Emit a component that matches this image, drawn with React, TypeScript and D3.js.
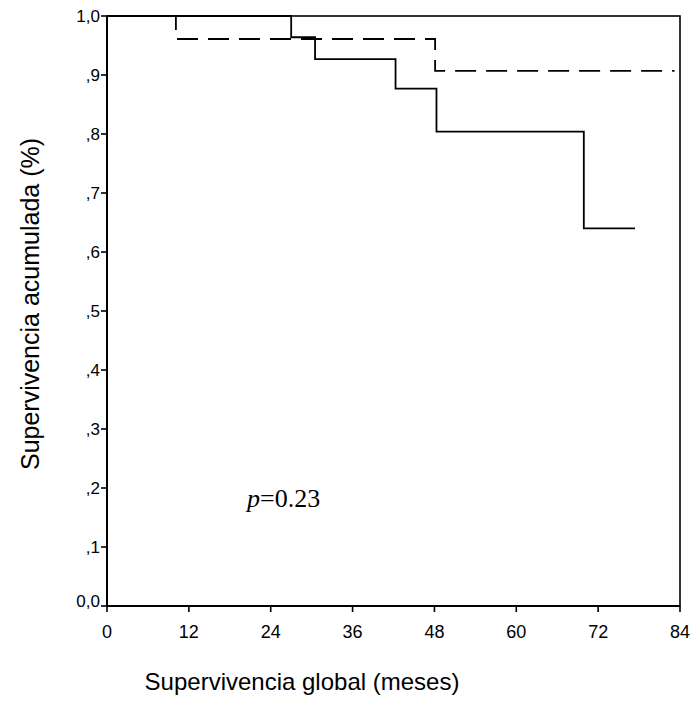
import React from "react";
import * as d3 from "d3";

const xTicks = [0, 12, 24, 36, 48, 60, 72, 84];
const yTicks = [0, 0.1, 0.2, 0.3, 0.4, 0.5, 0.6, 0.7, 0.8, 0.9, 1.0];
const yTickLabels = ["0,0", ",1", ",2", ",3", ",4", ",5", ",6", ",7", ",8", ",9", "1,0"];

// Kaplan-Meier steps: [time, survival]
const solidTimes = [0, 27, 30.5, 42.3, 48.3, 69.9, 77.4];
const solidSurv = [1.0, 0.964, 0.927, 0.877, 0.804, 0.64, 0.64];
const dashedTimes = [0, 10.1, 48.1, 83.2];
const dashedSurv = [1.0, 0.961, 0.907, 0.907];

const W = 694, H = 717;
const left = 107, right = 680, top = 16, bottom = 606;

export default function App() {
  const x = d3.scaleLinear().domain([0, 84]).range([left, right]);
  const y = d3.scaleLinear().domain([0, 1]).range([bottom, top]);
  const line = d3.line<[number, number]>().x(d => x(d[0])).y(d => y(d[1])).curve(d3.curveStepAfter);
  const solid = solidTimes.map((t, i) => [t, solidSurv[i]] as [number, number]);
  const dashed = dashedTimes.map((t, i) => [t, dashedSurv[i]] as [number, number]);
  const font = "Liberation Sans, Arial, sans-serif";
  return (
    <svg width={W} height={H} style={{ position: "absolute", left: 0, top: 0, background: "#fff" }}>
      <rect x={0} y={0} width={W} height={H} fill="#fff" />
      <path d={line(dashed) || ""} fill="none" stroke="#000" strokeWidth={1.8} strokeDasharray="21 10" />
      <path d={line(solid) || ""} fill="none" stroke="#000" strokeWidth={1.8} />
      <rect x={left} y={top} width={right - left} height={bottom - top} fill="none" stroke="#000" strokeWidth={1.6} />
      <line x1={left} x2={right} y1={bottom} y2={bottom} stroke="#000" strokeWidth={2} />
      <line x1={left} x2={left} y1={top} y2={bottom} stroke="#000" strokeWidth={2} />
      {yTicks.map((t, i) => (
        <g key={t}>
          <line x1={left - 6} x2={left} y1={y(t)} y2={y(t)} stroke="#000" strokeWidth={1.6} />
          <text x={left - 7} y={y(t) - (i === 0 ? 5 : 0)} dy="0.36em" textAnchor="end" fontFamily={font} fontSize={17}>
            {yTickLabels[i]}
          </text>
        </g>
      ))}
      {xTicks.map(t => (
        <g key={t}>
          <line x1={x(t)} x2={x(t)} y1={bottom} y2={bottom + 6} stroke="#000" strokeWidth={1.6} />
          <text x={x(t)} y={bottom + 32} textAnchor="middle" fontFamily={font} fontSize={18}>
            {t}
          </text>
        </g>
      ))}
      <text x={302} y={690} textAnchor="middle" fontFamily={font} fontSize={24}>
        Supervivencia global (meses)
      </text>
      <text transform={`translate(39,304) rotate(-90)`} textAnchor="middle" fontFamily={font} fontSize={25}>
        Supervivencia acumulada (%)
      </text>
      <text x={247} y={507} fontFamily="Liberation Serif, Times New Roman, serif" fontSize={26}>
        <tspan fontStyle="italic">p</tspan>=0.23
      </text>
    </svg>
  );
}
